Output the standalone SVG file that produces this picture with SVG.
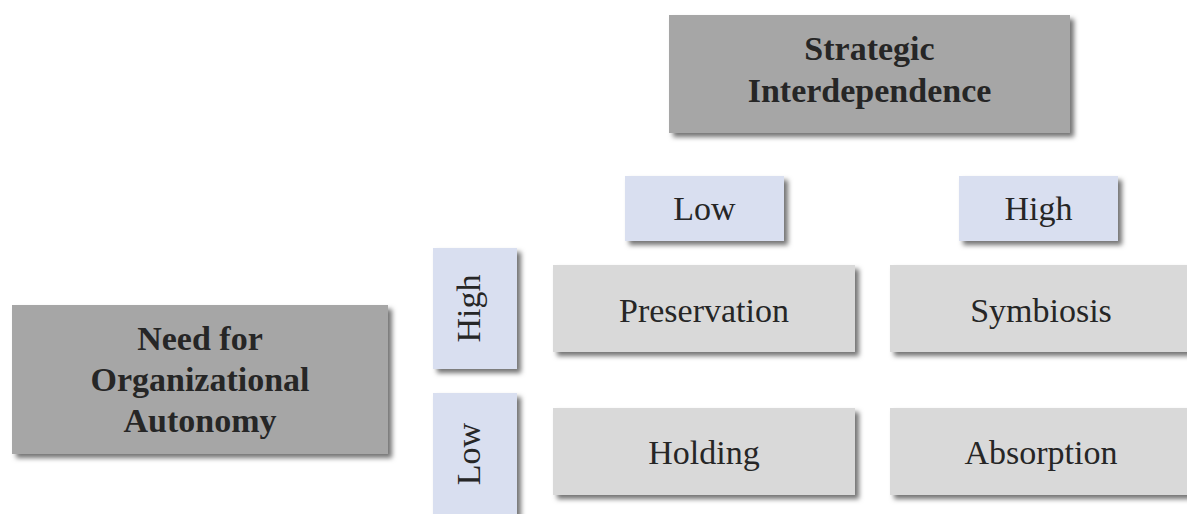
<svg xmlns="http://www.w3.org/2000/svg" width="1187" height="514" viewBox="0 0 1187 514">
  <defs>
    <filter id="sh" x="-10%" y="-10%" width="130%" height="140%">
      <feDropShadow dx="4" dy="4" stdDeviation="2.5" flood-color="#000" flood-opacity="0.55"/>
    </filter>
    <style>
      .dark { fill: #a6a6a6; filter: url(#sh); }
      .light { fill: #d9d9d9; filter: url(#sh); }
      .lav { fill: #d9dff0; filter: url(#sh); }
      text { font-family: "Liberation Serif", "DejaVu Serif", serif; fill: #262626; text-anchor: middle; }
      .b { font-weight: bold; font-size: 34px; }
      .r { font-size: 34px; }
    </style>
  </defs>
  <rect width="1187" height="514" fill="#ffffff"/>
  <g id="connectors"/>
  <g id="strategic-interdependence">
    <rect class="dark" x="669" y="15" width="401" height="118"/>
    <text class="b" x="869.5" y="60">Strategic</text>
    <text class="b" x="869.5" y="102">Interdependence</text>
  </g>
  <g id="need-for-autonomy">
    <rect class="dark" x="12" y="305" width="376" height="149"/>
    <text class="b" x="200" y="350">Need for</text>
    <text class="b" x="200" y="391">Organizational</text>
    <text class="b" x="200" y="432">Autonomy</text>
  </g>
  <g id="col-low">
    <rect class="lav" x="625" y="176" width="159" height="65"/>
    <text class="r" x="704.5" y="220">Low</text>
  </g>
  <g id="col-high">
    <rect class="lav" x="959" y="176" width="159" height="65"/>
    <text class="r" x="1038.5" y="220">High</text>
  </g>
  <g id="row-high">
    <rect class="lav" x="433" y="248" width="84" height="121"/>
    <text class="r" transform="translate(480,308.5) rotate(-90)" x="0" y="0">High</text>
  </g>
  <g id="row-low">
    <rect class="lav" x="433" y="393" width="84" height="125"/>
    <text class="r" transform="translate(480,454) rotate(-90)" x="0" y="0">Low</text>
  </g>
  <g id="preservation">
    <rect class="light" x="553" y="265" width="302" height="87"/>
    <text class="r" x="704" y="322">Preservation</text>
  </g>
  <g id="symbiosis">
    <rect class="light" x="890" y="265" width="302" height="87"/>
    <text class="r" x="1041" y="322">Symbiosis</text>
  </g>
  <g id="holding">
    <rect class="light" x="553" y="408" width="302" height="87"/>
    <text class="r" x="704" y="464">Holding</text>
  </g>
  <g id="absorption">
    <rect class="light" x="890" y="408" width="302" height="87"/>
    <text class="r" x="1041" y="464">Absorption</text>
  </g>
</svg>
